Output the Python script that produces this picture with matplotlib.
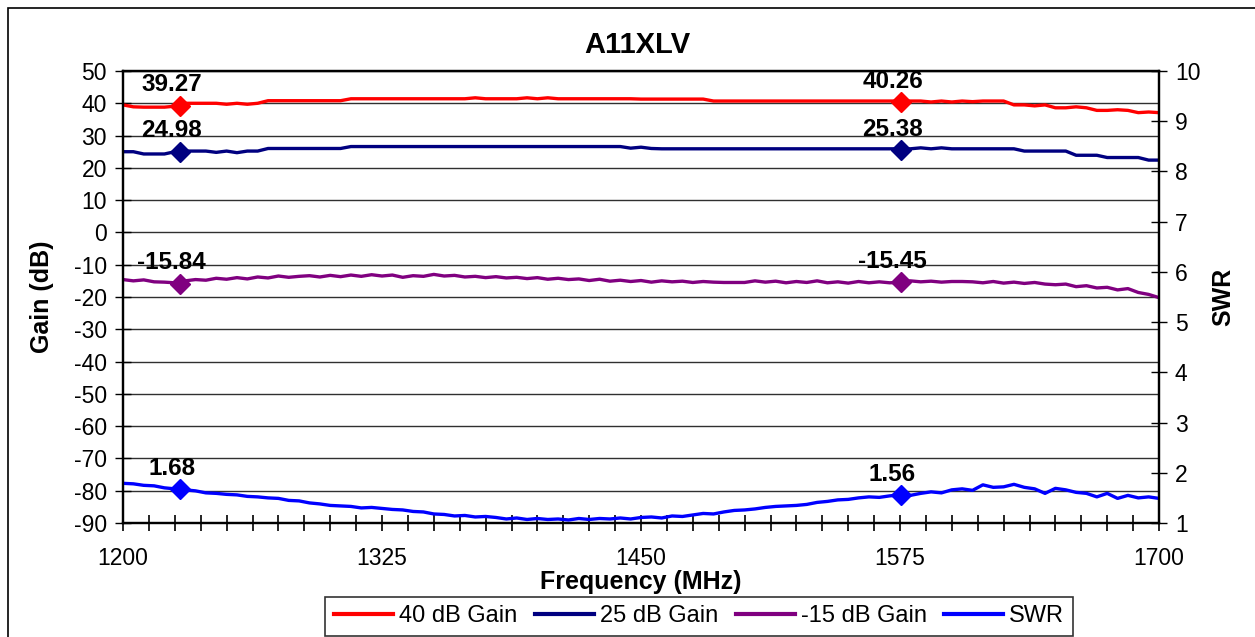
import matplotlib
matplotlib.use('Agg')
import matplotlib.pyplot as plt
from matplotlib.patches import Rectangle
from matplotlib.ticker import MultipleLocator

plt.rcParams['font.family'] = ['Liberation Sans', 'DejaVu Sans']
plt.rcParams['axes.unicode_minus'] = False

TITLE = 'A11XLV'
X_LABEL = 'Frequency (MHz)'
Y_LABEL = 'Gain (dB)'
Y2_LABEL = 'SWR'

# frequency points, 5 MHz step
FREQ = list(range(1200, 1701, 5))
X_TICKS = [1200, 1325, 1450, 1575, 1700]

GAIN_40 = [
    39.5, 38.9, 38.8, 38.8, 38.8, 39.1, 40.0, 40.0, 40.0, 40.0,
    39.7, 40.0, 39.7, 40.0, 40.8, 40.8, 40.8, 40.8, 40.8, 40.8,
    40.8, 40.8, 41.4, 41.4, 41.4, 41.4, 41.4, 41.4, 41.4, 41.4,
    41.4, 41.4, 41.4, 41.4, 41.7, 41.4, 41.4, 41.4, 41.4, 41.7,
    41.4, 41.7, 41.4, 41.4, 41.4, 41.4, 41.4, 41.4, 41.4, 41.4,
    41.3, 41.3, 41.3, 41.3, 41.3, 41.3, 41.3, 40.7, 40.7, 40.7,
    40.7, 40.7, 40.7, 40.7, 40.7, 40.7, 40.7, 40.7, 40.7, 40.7,
    40.7, 40.7, 40.7, 40.7, 40.7, 40.7, 40.7, 40.7, 40.4, 40.7,
    40.4, 40.7, 40.5, 40.7, 40.7, 40.7, 39.5, 39.5, 39.2, 39.5,
    38.6, 38.6, 38.9, 38.6, 37.8, 37.8, 38.0, 37.8, 37.1, 37.3,
    37.1,
]

GAIN_25 = [
    25.0, 25.0, 24.3, 24.3, 24.3, 25.0, 25.2, 25.2, 25.2, 24.8,
    25.2, 24.7, 25.2, 25.2, 26.0, 26.0, 26.0, 26.0, 26.0, 26.0,
    26.0, 26.0, 26.6, 26.6, 26.6, 26.6, 26.6, 26.6, 26.6, 26.6,
    26.6, 26.6, 26.6, 26.6, 26.6, 26.6, 26.6, 26.6, 26.6, 26.6,
    26.6, 26.6, 26.6, 26.6, 26.6, 26.6, 26.6, 26.6, 26.6, 26.1,
    26.4, 26.0, 25.9, 25.9, 25.9, 25.9, 25.9, 25.9, 25.9, 25.9,
    25.9, 25.9, 25.9, 25.9, 25.9, 25.9, 25.9, 25.9, 25.9, 25.9,
    25.9, 25.9, 25.9, 25.9, 25.9, 25.9, 25.9, 26.2, 25.9, 26.2,
    25.9, 25.9, 25.9, 25.9, 25.9, 25.9, 25.9, 25.2, 25.2, 25.2,
    25.2, 25.2, 23.9, 23.9, 23.9, 23.2, 23.2, 23.2, 23.2, 22.4,
    22.4,
]

GAIN_M15 = [
    -14.6, -15.0, -14.7, -15.3, -15.4, -15.6, -15.0, -14.6, -14.8, -14.2,
    -14.5, -14.0, -14.4, -13.8, -14.1, -13.5, -13.9, -13.6, -13.4, -13.8,
    -13.3, -13.7, -13.2, -13.6, -13.1, -13.5, -13.2, -13.9, -13.4, -13.6,
    -13.0, -13.5, -13.3, -13.8, -13.6, -14.0, -13.7, -14.1, -13.9, -14.3,
    -14.0, -14.5, -14.2, -14.6, -14.4, -14.9, -14.5, -15.1, -14.8, -15.2,
    -14.9, -15.4, -15.0, -15.3, -15.1, -15.5, -15.2, -15.4, -15.5, -15.5,
    -15.5, -15.0, -15.4, -15.1, -15.6, -15.2, -15.5, -15.0, -15.6, -15.3,
    -15.7, -15.2, -15.6, -15.3, -15.6, -15.45, -15.0, -15.3, -15.1, -15.4,
    -15.2, -15.2, -15.3, -15.6, -15.2, -15.7, -15.4, -15.8, -15.5, -16.0,
    -16.2, -16.0, -16.8, -16.5, -17.2, -17.0, -17.8, -17.4, -18.6, -19.2,
    -20.2,
]

SWR = [
    1.79, 1.78, 1.75, 1.74, 1.70, 1.68, 1.66, 1.64, 1.60, 1.59,
    1.57, 1.56, 1.53, 1.52, 1.50, 1.49, 1.45, 1.44, 1.40, 1.38,
    1.35, 1.34, 1.33, 1.30, 1.31, 1.29, 1.27, 1.26, 1.23, 1.22,
    1.18, 1.17, 1.14, 1.15, 1.12, 1.13, 1.11, 1.08, 1.10, 1.07,
    1.09, 1.07, 1.08, 1.06, 1.09, 1.07, 1.09, 1.08, 1.10, 1.08,
    1.11, 1.12, 1.10, 1.14, 1.13, 1.16, 1.19, 1.18, 1.22, 1.25,
    1.26, 1.28, 1.31, 1.33, 1.34, 1.35, 1.37, 1.41, 1.43, 1.46,
    1.47, 1.50, 1.52, 1.51, 1.54, 1.56, 1.55, 1.59, 1.62, 1.60,
    1.66, 1.68, 1.65, 1.76, 1.71, 1.72, 1.77, 1.71, 1.68, 1.59,
    1.69, 1.66, 1.61, 1.59, 1.52, 1.59, 1.49, 1.55, 1.50, 1.52,
    1.49,
]

# marker points (GPS L2 / L1)
MARK_FREQ = [1227.6, 1575.42]
MARK_40 = [39.27, 40.26]
MARK_25 = [24.98, 25.38]
MARK_M15 = [-15.84, -15.45]
MARK_SWR = [1.68, 1.56]

RED = '#FF0000'
NAVY = '#000080'
PURPLE = '#800080'
BLUE = '#0000FF'

TICK_FS = 16.5
LW = 2.4


def mark(ax, xs, ys, color):
    ax.plot(xs, ys, linestyle='none', marker='D', markersize=10, color=color, zorder=5)
    for x, y in zip(xs, ys):
        ax.annotate(f'{y:.2f}', (x, y), xytext=(-6, 15), textcoords='offset points',
                    ha='center', va='center', fontsize=17.5, fontweight='bold', zorder=6)


def main():
    fig = plt.figure(figsize=(12.55, 6.37), dpi=100)
    ax = fig.add_axes([123 / 1255, 1 - 523 / 637, 1036 / 1255, 452 / 637])
    ax2 = ax.twinx()

    l1, = ax.plot(FREQ, GAIN_40, color=RED, lw=LW, label='40 dB Gain')
    l2, = ax.plot(FREQ, GAIN_25, color=NAVY, lw=LW, label='25 dB Gain')
    l3, = ax.plot(FREQ, GAIN_M15, color=PURPLE, lw=LW, label='-15 dB Gain')
    l4, = ax2.plot(FREQ, SWR, color=BLUE, lw=LW, label='SWR')
    mark(ax, MARK_FREQ, MARK_40, RED)
    mark(ax, MARK_FREQ, MARK_25, NAVY)
    mark(ax, MARK_FREQ, MARK_M15, PURPLE)
    mark(ax2, MARK_FREQ, MARK_SWR, BLUE)

    ax.set_xlim(1200, 1700)
    ax.set_ylim(-90, 50)
    ax2.set_ylim(1, 10)
    ax.set_xticks(X_TICKS)
    ax.xaxis.set_minor_locator(MultipleLocator(12.5))
    ax.yaxis.set_major_locator(MultipleLocator(10))
    ax2.yaxis.set_major_locator(MultipleLocator(1))

    ax.yaxis.grid(True, color='#303030', lw=1.0)
    ax.set_axisbelow(True)

    ax.tick_params(axis='x', which='both', direction='inout', length=12, width=1.2,
                   labelsize=TICK_FS, pad=11, top=False)
    ax.tick_params(axis='y', direction='inout', length=11, width=1.0,
                   labelsize=TICK_FS, pad=6, right=False)
    ax2.tick_params(axis='y', direction='inout', length=11, width=1.0,
                    labelsize=TICK_FS, pad=6)

    for a in (ax, ax2):
        for sp in a.spines.values():
            sp.set_linewidth(1.6)
            sp.set_color('black')

    fig.text(637 / 1255, 1 - 45 / 637, TITLE, ha='center', va='center',
             fontsize=21, fontweight='bold')
    fig.text(641 / 1255, 1 - 582 / 637, X_LABEL, ha='center', va='center',
             fontsize=18, fontweight='bold')
    fig.text(42 / 1255, 1 - 297 / 637, Y_LABEL, ha='center', va='center',
             rotation=90, fontsize=18, fontweight='bold')
    fig.text(1223 / 1255, 1 - 297 / 637, Y2_LABEL, ha='center', va='center',
             rotation=90, fontsize=18, fontweight='bold')

    leg = fig.legend(handles=[l1, l2, l3, l4], loc='upper center',
                     bbox_to_anchor=(699 / 1255, 1 - 597 / 637), ncol=4,
                     fontsize=17, frameon=True, fancybox=False, shadow=False,
                     handlelength=2.5, handletextpad=0.25, columnspacing=0.75,
                     borderpad=0.36, borderaxespad=0)
    leg.get_frame().set_edgecolor('black')
    leg.get_frame().set_linewidth(1.2)
    for line in leg.get_lines():
        line.set_linewidth(3)

    # outer chart frame
    fig.add_artist(Rectangle((8 / 1255, -0.5), 2, 1.5 - 8 / 637, transform=fig.transFigure,
                             fill=False, edgecolor='black', lw=1.2))

    fig.savefig('out.png', dpi=100)


if __name__ == '__main__':
    main()
